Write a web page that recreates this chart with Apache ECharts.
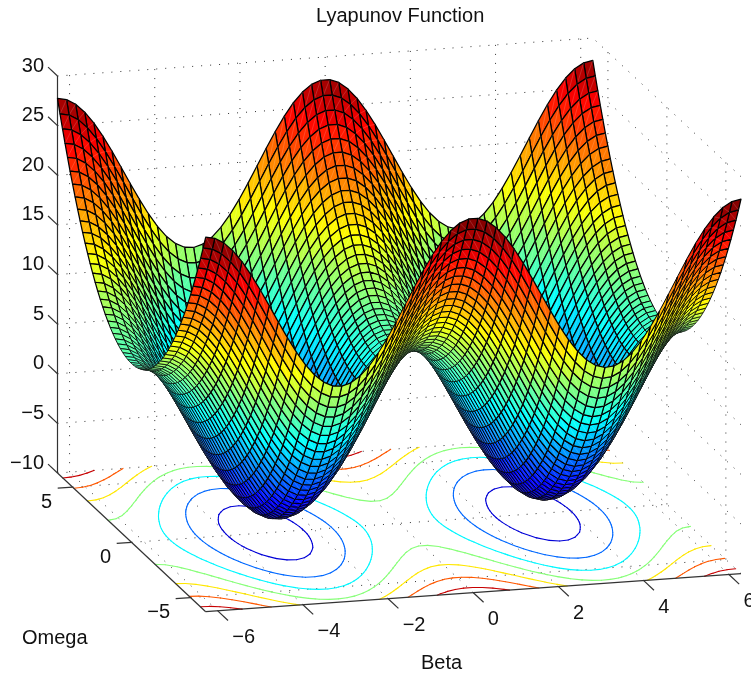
<!DOCTYPE html>
<html><head><meta charset="utf-8">
<style>html,body{margin:0;padding:0;background:#fff;overflow:hidden}#c{width:751px;height:675px}</style>
<script src="https://cdn.jsdelivr.net/npm/echarts@6/dist/echarts.min.js"></script>
</head><body><div id="c"></div>
<script>
// Tick labels
const betaTicks = [-6,-4,-2,0,2,4,6];
const omegaTicks = [-5,0,5];
const zTicks = [-10,-5,0,5,10,15,20,25,30];
const contourLevels = [-5,0,5,10,15,20,25];
const betaRange = [-6.2832,6.2832];
const omegaRange = [-6.2832,6.2832];
const cells = 59;
// Surface heights for beta = -2pi ... 0 (30 columns), one array per |omega| step going out from 0 to 2pi.
const zAtOmega00 = [8.01,7.83,7.3,6.43,5.28,3.89,2.32,.65,-1.05,-2.7,-4.23,-5.57,-6.66,-7.44,-7.89,-7.98,-7.71,-7.09,-6.15,-4.93,-3.49,-1.89,-.2,1.49,3.12,4.61,5.89,6.9,7.61,7.96];
const zAtOmega01 = [8.05,7.87,7.34,6.47,5.32,3.93,2.36,.69,-1.01,-2.66,-4.19,-5.53,-6.62,-7.4,-7.85,-7.94,-7.67,-7.05,-6.11,-4.89,-3.45,-1.85,-.16,1.53,3.16,4.65,5.93,6.94,7.65,8];
const zAtOmega02 = [8.14,7.96,7.43,6.56,5.41,4.02,2.45,.78,-.92,-2.57,-4.1,-5.44,-6.53,-7.31,-7.76,-7.85,-7.58,-6.96,-6.02,-4.8,-3.36,-1.76,-.07,1.62,3.25,4.74,6.02,7.03,7.74,8.09];
const zAtOmega03 = [8.28,8.1,7.57,6.7,5.55,4.16,2.59,.92,-.78,-2.43,-3.96,-5.3,-6.39,-7.17,-7.62,-7.71,-7.44,-6.82,-5.88,-4.66,-3.22,-1.62,.07,1.76,3.39,4.88,6.16,7.17,7.88,8.23];
const zAtOmega04 = [8.46,8.28,7.75,6.88,5.73,4.34,2.77,1.1,-.6,-2.25,-3.78,-5.12,-6.21,-6.99,-7.44,-7.53,-7.26,-6.64,-5.7,-4.48,-3.04,-1.44,.25,1.94,3.57,5.06,6.34,7.35,8.06,8.41];
const zAtOmega05 = [8.69,8.51,7.98,7.11,5.96,4.57,3,1.33,-.37,-2.02,-3.55,-4.89,-5.98,-6.76,-7.21,-7.3,-7.03,-6.41,-5.47,-4.25,-2.81,-1.21,.48,2.17,3.8,5.29,6.57,7.58,8.29,8.64];
const zAtOmega06 = [8.96,8.78,8.25,7.38,6.23,4.84,3.27,1.6,-.1,-1.75,-3.28,-4.62,-5.71,-6.49,-6.94,-7.03,-6.76,-6.14,-5.2,-3.98,-2.54,-.94,.75,2.44,4.07,5.56,6.84,7.85,8.56,8.91];
const zAtOmega07 = [9.28,9.1,8.57,7.7,6.55,5.16,3.59,1.92,.22,-1.43,-2.96,-4.3,-5.39,-6.17,-6.62,-6.71,-6.44,-5.82,-4.88,-3.66,-2.22,-.62,1.07,2.76,4.39,5.88,7.16,8.17,8.88,9.23];
const zAtOmega08 = [9.64,9.46,8.93,8.06,6.91,5.52,3.95,2.28,.58,-1.07,-2.6,-3.94,-5.03,-5.81,-6.26,-6.35,-6.08,-5.46,-4.52,-3.3,-1.86,-.26,1.43,3.12,4.75,6.24,7.52,8.53,9.24,9.59];
const zAtOmega09 = [10.05,9.87,9.34,8.47,7.32,5.93,4.36,2.69,.99,-.66,-2.19,-3.53,-4.62,-5.4,-5.85,-5.94,-5.67,-5.05,-4.11,-2.89,-1.45,.15,1.84,3.53,5.16,6.65,7.93,8.94,9.65,10];
const zAtOmega10 = [10.5,10.32,9.79,8.92,7.77,6.38,4.81,3.14,1.44,-.21,-1.74,-3.08,-4.17,-4.95,-5.4,-5.49,-5.22,-4.6,-3.66,-2.44,-1,.6,2.29,3.98,5.61,7.1,8.38,9.39,10.1,10.45];
const zAtOmega11 = [11,10.82,10.29,9.42,8.27,6.88,5.31,3.64,1.94,.29,-1.24,-2.58,-3.67,-4.45,-4.9,-4.99,-4.72,-4.1,-3.16,-1.94,-.5,1.1,2.79,4.48,6.11,7.6,8.88,9.89,10.6,10.95];
const zAtOmega12 = [11.54,11.36,10.83,9.96,8.81,7.42,5.85,4.18,2.48,.83,-.7,-2.04,-3.13,-3.91,-4.36,-4.45,-4.18,-3.56,-2.62,-1.4,.04,1.64,3.33,5.02,6.65,8.14,9.42,10.43,11.14,11.49];
const zAtOmega13 = [12.13,11.95,11.42,10.55,9.4,8.01,6.44,4.77,3.07,1.42,-.11,-1.45,-2.54,-3.32,-3.77,-3.86,-3.59,-2.97,-2.03,-.81,.63,2.23,3.92,5.61,7.24,8.73,10.01,11.02,11.73,12.08];
const zAtOmega14 = [12.77,12.59,12.06,11.19,10.04,8.65,7.08,5.41,3.71,2.06,.53,-.81,-1.9,-2.68,-3.13,-3.22,-2.95,-2.33,-1.39,-.17,1.27,2.87,4.56,6.25,7.88,9.37,10.65,11.66,12.37,12.72];
const zAtOmega15 = [13.45,13.27,12.74,11.87,10.72,9.33,7.76,6.09,4.39,2.74,1.21,-.13,-1.22,-2,-2.45,-2.54,-2.27,-1.65,-.71,.51,1.95,3.55,5.24,6.93,8.56,10.05,11.33,12.34,13.05,13.4];
const zAtOmega16 = [14.18,14,13.47,12.6,11.45,10.06,8.49,6.82,5.12,3.47,1.94,.6,-.49,-1.27,-1.72,-1.81,-1.54,-.92,.02,1.24,2.68,4.28,5.97,7.66,9.29,10.78,12.06,13.07,13.78,14.13];
const zAtOmega17 = [14.95,14.77,14.24,13.37,12.22,10.83,9.26,7.59,5.89,4.24,2.71,1.37,.28,-.5,-.95,-1.04,-.77,-.15,.79,2.01,3.45,5.05,6.74,8.43,10.06,11.55,12.83,13.84,14.55,14.9];
const zAtOmega18 = [15.76,15.58,15.05,14.18,13.03,11.64,10.07,8.4,6.7,5.05,3.52,2.18,1.09,.31,-.14,-.23,.04,.66,1.6,2.82,4.26,5.86,7.55,9.24,10.87,12.36,13.64,14.65,15.36,15.71];
const zAtOmega19 = [16.62,16.44,15.91,15.04,13.89,12.5,10.93,9.26,7.56,5.91,4.38,3.04,1.95,1.17,.72,.63,.9,1.52,2.46,3.68,5.12,6.72,8.41,10.1,11.73,13.22,14.5,15.51,16.22,16.57];
const zAtOmega20 = [17.53,17.35,16.82,15.95,14.8,13.41,11.84,10.17,8.47,6.82,5.29,3.95,2.86,2.08,1.63,1.54,1.81,2.43,3.37,4.59,6.03,7.63,9.32,11.01,12.64,14.13,15.41,16.42,17.13,17.48];
const zAtOmega21 = [18.48,18.3,17.77,16.9,15.75,14.36,12.79,11.12,9.42,7.77,6.24,4.9,3.81,3.03,2.58,2.49,2.76,3.38,4.32,5.54,6.98,8.58,10.27,11.96,13.59,15.08,16.36,17.37,18.08,18.43];
const zAtOmega22 = [19.48,19.3,18.77,17.9,16.75,15.36,13.79,12.12,10.42,8.77,7.24,5.9,4.81,4.03,3.58,3.49,3.76,4.38,5.32,6.54,7.98,9.58,11.27,12.96,14.59,16.08,17.36,18.37,19.08,19.43];
const zAtOmega23 = [20.53,20.35,19.82,18.95,17.8,16.41,14.84,13.17,11.47,9.82,8.29,6.95,5.86,5.08,4.63,4.54,4.81,5.43,6.37,7.59,9.03,10.63,12.32,14.01,15.64,17.13,18.41,19.42,20.13,20.48];
const zAtOmega24 = [21.61,21.43,20.9,20.03,18.88,17.49,15.92,14.25,12.55,10.9,9.37,8.03,6.94,6.16,5.71,5.62,5.89,6.51,7.45,8.67,10.11,11.71,13.4,15.09,16.72,18.21,19.49,20.5,21.21,21.56];
const zAtOmega25 = [22.75,22.57,22.04,21.17,20.02,18.63,17.06,15.39,13.69,12.04,10.51,9.17,8.08,7.3,6.85,6.76,7.03,7.65,8.59,9.81,11.25,12.85,14.54,16.23,17.86,19.35,20.63,21.64,22.35,22.7];
const zAtOmega26 = [23.93,23.75,23.22,22.35,21.2,19.81,18.24,16.57,14.87,13.22,11.69,10.35,9.26,8.48,8.03,7.94,8.21,8.83,9.77,10.99,12.43,14.03,15.72,17.41,19.04,20.53,21.81,22.82,23.53,23.88];
const zAtOmega27 = [25.15,24.97,24.44,23.57,22.42,21.03,19.46,17.79,16.09,14.44,12.91,11.57,10.48,9.7,9.25,9.16,9.43,10.05,10.99,12.21,13.65,15.25,16.94,18.63,20.26,21.75,23.03,24.04,24.75,25.1];
const zAtOmega28 = [26.42,26.24,25.71,24.84,23.69,22.3,20.73,19.06,17.36,15.71,14.18,12.84,11.75,10.97,10.52,10.43,10.7,11.32,12.26,13.48,14.92,16.52,18.21,19.9,21.53,23.02,24.3,25.31,26.02,26.37];
const zAtOmega29 = [27.74,27.56,27.03,26.16,25.01,23.62,22.05,20.38,18.68,17.03,15.5,14.16,13.07,12.29,11.84,11.75,12.02,12.64,13.58,14.8,16.24,17.84,19.53,21.22,22.85,24.34,25.62,26.63,27.34,27.69];
const halfRows = [zAtOmega00,zAtOmega01,zAtOmega02,zAtOmega03,zAtOmega04,zAtOmega05,zAtOmega06,zAtOmega07,zAtOmega08,zAtOmega09,zAtOmega10,zAtOmega11,zAtOmega12,zAtOmega13,zAtOmega14,zAtOmega15,zAtOmega16,zAtOmega17,zAtOmega18,zAtOmega19,zAtOmega20,zAtOmega21,zAtOmega22,zAtOmega23,zAtOmega24,zAtOmega25,zAtOmega26,zAtOmega27,zAtOmega28,zAtOmega29];

// The surface is mirror-symmetric in beta and in omega: lay the half-rows out over the full grid.
const zGrid = [];
for (let j = 0; j <= cells; j++) {
  const h = halfRows[j < 30 ? 29 - j : j - 30];
  zGrid.push(h.concat(h.slice().reverse()));
}
const zMin = -7.98, zMax = 27.74, zFloor = -10, zTop = 30;

// Orthographic view of the plot box (plane coordinates of the hidden value axes).
const corner = {front:[205.7,611.7], right:[741,573.7], left:[57.5,473], zPerUnit:9.925};
const bSpan = betaRange[1]-betaRange[0], wSpan = omegaRange[1]-omegaRange[0];
function project(b,w,z){
  const fb=(b-betaRange[0])/bSpan, fw=(w-omegaRange[0])/wSpan;
  return [
    corner.front[0]+fb*(corner.right[0]-corner.front[0])+fw*(corner.left[0]-corner.front[0]),
    corner.front[1]+fb*(corner.right[1]-corner.front[1])+fw*(corner.left[1]-corner.front[1])-(z-zFloor)*corner.zPerUnit
  ];
}
const betaAt = i => betaRange[0]+i*bSpan/cells;
const omegaAt = j => omegaRange[0]+j*wSpan/cells;

function jet(z){
  let k=Math.floor((z-zMin)/(zMax-zMin)*64); k=Math.max(0,Math.min(63,k));
  const t=(k+.5)/64, cl=v=>Math.round(255*Math.max(0,Math.min(1,v)));
  return 'rgb('+cl(Math.min(4*t-1.5,-4*t+4.5))+','+cl(Math.min(4*t-.5,-4*t+3.5))+','+cl(Math.min(4*t+.5,-4*t+2.5))+')';
}

// Walls and floor grid lines
const gridSegs=[];
const bMin=betaRange[0],bMax=betaRange[1],wMin=omegaRange[0],wMax=omegaRange[1];
zTicks.forEach(z=>{gridSegs.push([bMin,wMax,z,bMax,wMax,z]);gridSegs.push([bMax,wMin,z,bMax,wMax,z]);});
betaTicks.forEach(b=>{gridSegs.push([b,wMax,zFloor,b,wMax,zTop]);gridSegs.push([b,wMin,zFloor,b,wMax,zFloor]);});
omegaTicks.forEach(w=>{gridSegs.push([bMax,w,zFloor,bMax,w,zTop]);gridSegs.push([bMin,w,zFloor,bMax,w,zFloor]);});

// Solid axes and ticks
const axisSegs=[[bMin,wMax,zFloor,bMin,wMax,zTop],[bMin,wMin,zFloor,bMin,wMax,zFloor],[bMin,wMin,zFloor,bMax,wMin,zFloor]];
const zTickLen=.8,wTickLen=.35,bTickLen=.87;
zTicks.forEach(z=>axisSegs.push([bMin,wMax,z,bMin,wMax+zTickLen,z]));
omegaTicks.forEach(w=>axisSegs.push([bMin,w,zFloor,bMin-wTickLen,w,zFloor]));
betaTicks.forEach(b=>axisSegs.push([b,wMin,zFloor,b,wMin-bTickLen,zFloor]));

// Contours on the floor (marching squares over zGrid)
const contourSegs=[];
contourLevels.forEach(lv=>{
  for(let j=0;j<cells;j++)for(let i=0;i<cells;i++){
    const c=[[i,j],[i+1,j],[i+1,j+1],[i,j+1]],pts=[];
    for(let e=0;e<4;e++){
      const p=c[e],q=c[(e+1)%4],zp=zGrid[p[1]][p[0]],zq=zGrid[q[1]][q[0]];
      if((zp<lv)!==(zq<lv)){const f=(lv-zp)/(zq-zp);pts.push([p[0]+f*(q[0]-p[0]),p[1]+f*(q[1]-p[1])]);}
    }
    for(let k=0;k+1<pts.length;k+=2)
      contourSegs.push({a:pts[k],b:pts[k+1],color:jet(lv)});
  }
});

// Faces, painted from the far corner to the near one
const faces=[];
for(let j=cells-1;j>=0;j--)for(let i=cells-1;i>=0;i--)faces.push([i,j]);

// Texts
const texts=[];
zTicks.forEach(z=>texts.push({p:project(bMin,wMax,z),dx:-13.5,dy:-10,t:String(z).replace('-','\u2212'),align:'right'}));
omegaTicks.forEach(w=>texts.push({p:project(bMin,w,zFloor),dx:-20.5,dy:15,t:String(w).replace('-','\u2212'),align:'right'}));
betaTicks.forEach(b=>texts.push({p:project(b,wMin,zFloor),dx:14.5,dy:27,t:String(b).replace('-','\u2212'),align:'left'}));
const textFont='20px "Liberation Sans", Arial, sans-serif';

function segRender(list,style){
  return function(params,api){
    const s=list[params.dataIndex];
    const a=api.coord(project(s[0],s[1],s[2])),b=api.coord(project(s[3],s[4],s[5]));
    return {type:'line',shape:{x1:a[0],y1:a[1],x2:b[0],y2:b[1]},style:style,silent:true};
  };
}
const idx=list=>list.map((_,i)=>[i]);
const base={type:'custom',coordinateSystem:'cartesian2d',animation:false,silent:true,clip:false,progressive:0,encode:{x:0,y:0}};
function meshWidth(p){
  let a=0;for(let k=0;k<4;k++){const m=p[k],n=p[(k+1)%4];a+=m[0]*n[1]-n[0]*m[1];}
  return Math.max(.55,Math.min(1.25,.5+Math.abs(a)/2/110));
}

const chart=echarts.init(document.getElementById('c'),null,{renderer:'canvas',width:751,height:675});
chart.setOption({
  animation:false,
  backgroundColor:'#fff',
  title:{text:'Lyapunov Function',left:311,top:1,itemGap:0,textStyle:{fontFamily:'Liberation Sans',fontSize:20,fontWeight:'normal',color:'#111'}},
  grid:{left:0,right:0,top:0,bottom:0},
  xAxis:{type:'value',min:0,max:751,show:false},
  yAxis:{type:'value',min:0,max:675,inverse:true,show:false},
  tooltip:{show:false},
  graphic:[
    {type:'text',left:22,top:628,style:{text:'Omega',font:textFont,fill:'#111'}},
    {type:'text',left:421,top:653,style:{text:'Beta',font:textFont,fill:'#111'}}
  ],
  series:[
    Object.assign({},base,{name:'grid',data:idx(gridSegs),renderItem:segRender(gridSegs,{stroke:'#333',lineWidth:1,lineDash:[1,8],fill:null})}),
    Object.assign({},base,{name:'contours',data:idx(contourSegs),renderItem:function(params,api){
      const s=contourSegs[params.dataIndex];
      const a=api.coord(project(betaAt(s.a[0]),omegaAt(s.a[1]),zFloor)),b=api.coord(project(betaAt(s.b[0]),omegaAt(s.b[1]),zFloor));
      return {type:'line',shape:{x1:a[0],y1:a[1],x2:b[0],y2:b[1]},style:{stroke:s.color,lineWidth:1.1,lineCap:'round',fill:null},silent:true};
    }}),
    Object.assign({},base,{name:'axes',data:idx(axisSegs),renderItem:segRender(axisSegs,{stroke:'#333',lineWidth:1.2,fill:null})}),
    Object.assign({},base,{name:'surface',data:faces,renderItem:function(params,api){
      const f=faces[params.dataIndex],i=f[0],j=f[1];
      const pts=[[i,j],[i+1,j],[i+1,j+1],[i,j+1]].map(c=>api.coord(project(betaAt(c[0]),omegaAt(c[1]),zGrid[c[1]][c[0]])));
      return {type:'group',silent:true,children:[
        {type:'polygon',shape:{points:pts},style:{fill:jet(zGrid[j][i]),stroke:'#000',lineWidth:meshWidth(pts),lineJoin:'round'},silent:true},
        {type:'line',shape:{x1:pts[0][0],y1:pts[0][1],x2:pts[2][0],y2:pts[2][1]},style:{stroke:'rgba(255,255,255,0.2)',lineWidth:.8,fill:null},silent:true}
      ]};
    }}),
    Object.assign({},base,{name:'labels',data:idx(texts),renderItem:function(params,api){
      const t=texts[params.dataIndex],c=api.coord(t.p);
      return {type:'text',x:c[0]+t.dx,y:c[1]+t.dy,style:{text:t.t,font:textFont,fill:'#111',textAlign:t.align,textVerticalAlign:'middle'},silent:true};
    }})
  ]
});
</script></body></html>
